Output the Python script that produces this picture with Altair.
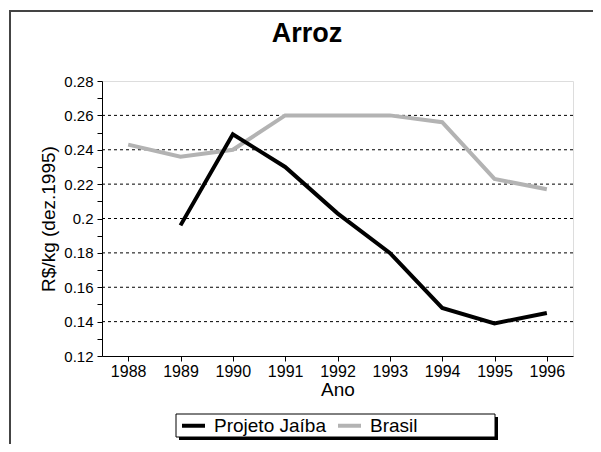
import altair as alt
import pandas as pd

years = [1988, 1989, 1990, 1991, 1992, 1993, 1994, 1995, 1996]
jaiba = [None, 0.196, 0.249, 0.230, 0.203, 0.180, 0.148, 0.139, 0.145]
brasil = [0.243, 0.236, 0.240, 0.260, 0.260, 0.260, 0.256, 0.223, 0.217]
series = ["Projeto Jaíba", "Brasil"]
colors = ["#000000", "#b3b3b3"]
y_ticks = [0.12, 0.13, 0.14, 0.15, 0.16, 0.17, 0.18, 0.19, 0.20, 0.21, 0.22,
           0.23, 0.24, 0.25, 0.26, 0.27, 0.28]
grid_vals = [0.14, 0.16, 0.18, 0.20, 0.22, 0.24, 0.26]
title_text = "Arroz"

rows = []
for yr, j, b in zip(years, jaiba, brasil):
    if j is not None:
        rows.append({"Ano": yr, "Série": series[0], "valor": j})
    rows.append({"Ano": yr, "Série": series[1], "valor": b})
df = pd.DataFrame(rows)
grid_df = pd.DataFrame({"valor": grid_vals})
one = pd.DataFrame({"t": [title_text]})

FONT = "Liberation Sans"
W, H = 471, 275

yscale = alt.Scale(domain=[0.12, 0.28], nice=False, zero=False)
y_axis = alt.Axis(title="R$/kg (dez.1995)", values=y_ticks, grid=False,
                  tickSize=5, tickColor="#000", domainColor="#000",
                  labelExpr="(round(datum.value*100) % 2 == 0) ? format(datum.value, '~g') : ''",
                  labelOverlap=False, labelFontSize=15, labelColor="#000",
                  labelPadding=4, titleFontSize=19, titleFontWeight="normal",
                  titleColor="#000", titlePadding=5, labelFont=FONT, titleFont=FONT)

frame = alt.Chart(one).mark_rect(
    fill=None, stroke="#444444", strokeWidth=2
).encode(x=alt.value(-92), x2=alt.value(560), y=alt.value(-70), y2=alt.value(420))

title = alt.Chart(one).mark_text(
    font=FONT, fontSize=27, fontWeight="bold", color="#000", baseline="alphabetic",
    align="center"
).encode(text="t:N", x=alt.value(205), y=alt.value(-39))

grid = alt.Chart(grid_df).mark_rule(
    color="#000000", strokeWidth=1, strokeDash=[3, 3]
).encode(y=alt.Y("valor:Q", scale=yscale, axis=y_axis))

shadow = alt.Chart(one).mark_rect(fill="#000000").encode(
    x=alt.value(77), x2=alt.value(396), y=alt.value(336), y2=alt.value(359)
)
box = alt.Chart(one).mark_rect(fill="#ffffff", stroke="#000000", strokeWidth=1).encode(
    x=alt.value(74), x2=alt.value(393), y=alt.value(333), y2=alt.value(356)
)

lines = alt.Chart(df).mark_line(strokeWidth=4, strokeJoin="miter").encode(
    x=alt.X("Ano:O", scale=alt.Scale(type="point", padding=0.5),
            axis=alt.Axis(title="Ano", labelAngle=0, tickSize=5, tickColor="#000",
                          domainColor="#000", labelFontSize=16, labelColor="#000",
                          labelPadding=2, titleFontSize=19, titleFontWeight="normal",
                          titleColor="#000", titlePadding=1, grid=False, labelFont=FONT,
                          titleFont=FONT)),
    y=alt.Y("valor:Q", scale=yscale, axis=y_axis),
    color=alt.Color("Série:N", scale=alt.Scale(domain=series, range=colors),
                    legend=alt.Legend(title=None, orient="none", legendX=78, legendY=331,
                                      direction="horizontal", symbolType="stroke",
                                      symbolStrokeWidth=4, symbolSize=529,
                                      labelFontSize=19, labelFont=FONT, labelColor="#000",
                                      padding=0, columnPadding=4, labelOffset=7,
                                      labelLimit=300)),
    order=alt.Order("Ano:O"),
)

chart = alt.layer(frame, title, grid, shadow, box, lines).properties(
    width=W, height=H,
    autosize=alt.AutoSizeParams(type="none"),
    padding={"left": 94, "top": 73, "right": 20, "bottom": 88},
).configure_view(stroke="#000000", strokeWidth=1).configure(background="#ffffff")

chart.save("out.html", embed_options={"renderer": "svg", "actions": False})
